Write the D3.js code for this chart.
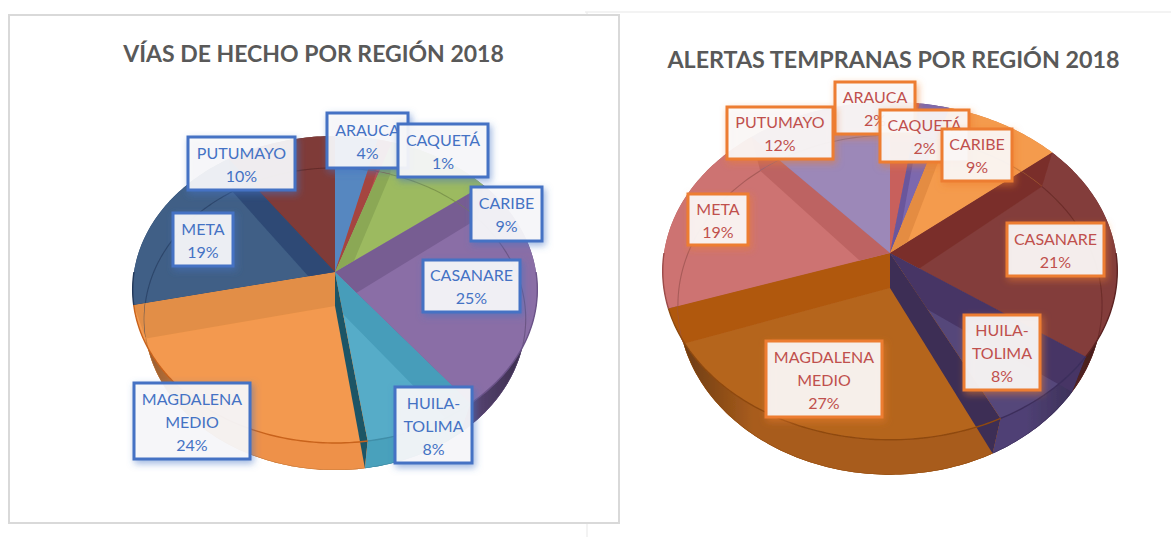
<!DOCTYPE html>
<html><head><meta charset="utf-8">
<script src="https://cdn.jsdelivr.net/npm/d3@7"></script>
<style>html,body{margin:0;background:#fff}svg{display:block}</style></head>
<body><svg id="c" width="1171" height="537"></svg>
<script>
// ---- data ----
const regions = ["ARAUCA","CAQUETÁ","CARIBE","CASANARE","HUILA-TOLIMA","MAGDALENA MEDIO","META","PUTUMAYO"];
const viasValues = [3.8,1.3,9.4,25,8.2,23.9,18.6,9.8];
const alertasValues = [2.3,2.4,9.2,21,7.8,27.1,18.7,11.5];
const viasTitle = "VÍAS DE HECHO POR REGIÓN 2018";
const alertasTitle = "ALERTAS TEMPRANAS POR REGIÓN 2018";
const labelLines = [["ARAUCA"],["CAQUETÁ"],["CARIBE"],["CASANARE"],["HUILA-","TOLIMA"],["MAGDALENA","MEDIO"],["META"],["PUTUMAYO"]];

// ---- styles / layout ----
const viasColors = ["#5687c0","#b9504c","#9cba60","#8a6ea6","#57acc8","#f3994f","#3f5e86","#7f3a38"];
const viasBands  = ["#4f7eb4","#a54440","#8ba855","#775d92","#469dba","#e28e46","#2e4a74","#6f2f2d"];
const viasWalls  = ["#4a76a8","#963c38","#7f9a4c","#5f4a7c","#4aa1bc","#ee9149","#2c4566","#5f2a28"];
const viasRims   = ["#3f6796","#84332f","#6f8741","#6b5388","#3f8ea8","#c8621b","#24395a","#4f2321"];
const viasStripFront = "#1f5566";
const alertasColors = ["#c8615b","#7c68ae","#f49b4e","#833c3b","#55467a","#b5651f","#cd7372","#9c88b8"];
const alertasBands  = ["#b9524c","#6a569c","#e48c42","#7a2f2a","#463565","#b0590f","#bd6462","#8c78a8"];
const alertasWalls  = ["#a9443f","#5d4b90","#d47f38","#6c2e2c","#4f4074","#a85c1c","#b05a58","#7d6a98"];
const alertasRims   = ["#93372f","#4d3d7c","#b86a2a","#5c2422","#3c2e5c","#8f4a10","#9c4b49","#6c5a86"];
const alertasStripFront = "#3d2d54";

const svg = d3.select("#c");
const defs = svg.append("defs");
const sh = (id,col)=>{const f=defs.append("filter").attr("id",id).attr("x","-25%").attr("y","-25%").attr("width","160%").attr("height","160%");
  f.append("feDropShadow").attr("dx",2).attr("dy",3).attr("stdDeviation",3.5).attr("flood-color",col).attr("flood-opacity",.55);};
sh("shB","#4472c4"); sh("shO","#ed7d31");
const soft = defs.append("filter").attr("id","soft"); soft.append("feGaussianBlur").attr("stdDeviation",.45);
const edge = defs.append("linearGradient").attr("id","edgeShade").attr("gradientUnits","objectBoundingBox");
edge.append("stop").attr("offset",0).attr("stop-color","#000").attr("stop-opacity",.45);
edge.append("stop").attr("offset",.2).attr("stop-color","#000").attr("stop-opacity",0);
edge.append("stop").attr("offset",.8).attr("stop-color","#000").attr("stop-opacity",0);
edge.append("stop").attr("offset",1).attr("stop-color","#000").attr("stop-opacity",.45);

// projective disc: angle + level -> screen point
function projector(d){ return (t,r=1)=>{
  const u=r*Math.sin(t), v=r*Math.cos(t), w=1+d.k*v;
  return [d.cx+d.rx*u/w, d.ay-d.ry*v/w];
};}
const lineGen = d3.line();
function arcPts(P,a0,a1){ const n=Math.max(2,Math.ceil((a1-a0)/0.02)); return d3.range(n+1).map(i=>P(a0+(a1-a0)*i/n)); }

let uid=0;
function drawPie(cfg){
  const g = svg.append("g").attr("filter","url(#soft)");
  const arcs = d3.pie().sort(null).value(d=>d)(cfg.values);
  const T = projector(cfg.top), B = projector(cfg.bottom);
  const apexT=T(0,0), apexB=B(0,0);
  const sector = (P,apex,a)=> lineGen([apex,...arcPts(P,a.startAngle,a.endAngle)])+"Z";
  const rimWall = a => lineGen([...arcPts(T,a.startAngle,a.endAngle),...arcPts(B,a.startAngle,a.endAngle).reverse()])+"Z";

  // outer walls and floor
  arcs.forEach((a,i)=>{
    g.append("path").attr("d",sector(B,apexB,a)).attr("fill",cfg.walls[i]);
    g.append("path").attr("d",rimWall(a)).attr("fill",cfg.walls[i]);
  });
  // side shading of the outer wall
  const all=arcPts(T,Math.PI/2,Math.PI*3/2), allB=arcPts(B,Math.PI/2,Math.PI*3/2);
  g.append("path").attr("d",lineGen([...all,...allB.reverse()])+"Z").attr("fill","url(#edgeShade)");

  // top faces
  const id=++uid;
  arcs.forEach((a,i)=>{
    g.append("path").attr("d",sector(T,apexT,a)).attr("fill",cfg.colors[i]);
    const cp=defs.append("clipPath").attr("id",`s${id}_${i}`);
    cp.append("path").attr("d",sector(T,apexT,a));
    cp.append("path").attr("d",rimWall(a));
  });
  // radial partition walls seen through the glass top
  arcs.forEach((a,i)=>{
    const t=a.endAngle; if(i===arcs.length-1) return;
    const inRight=Math.sin(t)>0;
    const host=inRight? i+1 : i;
    const nearFront=Math.abs(t-Math.PI)<cfg.frontSpan;
    const fill=nearFront? cfg.stripFront : cfg.bands[host];
    const q=lineGen([apexT,T(t),B(t),apexB])+"Z";
    g.append("path").attr("d",q).attr("fill",fill).attr("clip-path",`url(#s${id}_${host})`);
  });
  // floor rim seen through the top
  arcs.forEach((a,i)=>{
    g.append("path").attr("d",lineGen(arcPts(B,a.startAngle,a.endAngle))).attr("fill","none")
     .attr("stroke",d3.color(cfg.bands[i]).darker(.6)).attr("stroke-width",1.1).attr("stroke-opacity",.7)
     .attr("clip-path",`url(#s${id}_${i})`);
  });
  // front edge of the top face
  arcs.forEach((a,i)=>{
    const a0=Math.max(a.startAngle,Math.PI/2), a1=Math.min(a.endAngle,Math.PI*3/2);
    if(a1<=a0) return;
    g.append("path").attr("d",lineGen(arcPts(T,a0,a1))).attr("fill","none")
     .attr("stroke",cfg.rims[i]).attr("stroke-width",1.4);
  });

  // labels
  const L=svg.append("g");
  cfg.boxes.forEach((b,i)=>{
    const [x0,y0,x1,y1]=b;
    L.append("rect").attr("x",x0).attr("y",y0).attr("width",x1-x0).attr("height",y1-y0)
      .attr("fill","#fbfbfb").attr("fill-opacity",.9).attr("stroke",cfg.boxStroke).attr("stroke-width",3)
      .attr("filter",`url(#${cfg.shadow})`);
    const lines=[...labelLines[i],d3.format(".0%")(cfg.values[i]/100)];
    const lh=23, h=lh*lines.length, cy=(y0+y1)/2;
    lines.forEach((s,j)=>L.append("text").attr("x",(x0+x1)/2).attr("y",cy-h/2+lh*j+lh/2+6.5)
      .attr("text-anchor","middle").attr("font-family","Lato, 'Open Sans', sans-serif").attr("font-size",16)
      .attr("fill",cfg.labelColor).text(s));
  });
}

// panels
svg.append("path").attr("d","M585 12H1171M587 12V537").attr("fill","none").attr("stroke","#efefef").attr("stroke-width",1.5);
svg.append("rect").attr("x",9).attr("y",15).attr("width",610).attr("height",508).attr("fill","#fff").attr("stroke","#d9d9d9").attr("stroke-width",2);
const title=(x,y,s,fs)=>svg.append("text").attr("x",x).attr("y",y).attr("text-anchor","middle").attr("font-family","Lato, sans-serif")
  .attr("font-weight",700).attr("font-size",fs).attr("fill","#595959").text(s);
title(313.5,62,viasTitle,23); title(893.5,68,alertasTitle,23.3);

drawPie({values:viasValues,colors:viasColors,bands:viasBands,walls:viasWalls,rims:viasRims,frontSpan:0.3,stripFront:viasStripFront,
  top:{cx:335,ay:272,rx:201,ry:151.5,k:.114}, bottom:{cx:335,ay:306,rx:190,ry:150,k:.086},
  boxStroke:"#4472c4",labelColor:"#4472c4",shadow:"shB",
  boxes:[[327,113,408,168],[398,124,488,177],[471,187,542,241],[423,260,520,312],[395,387,472,463],[134,383,250,459],[173,213,233,266],[188,137,295,190]]});
drawPie({values:alertasValues,colors:alertasColors,bands:alertasBands,walls:alertasWalls,rims:alertasRims,frontSpan:0.55,stripFront:alertasStripFront,
  top:{cx:890,ay:253,rx:226,ry:167,k:.106}, bottom:{cx:890,ay:288,rx:211,ry:168,k:.1},
  boxStroke:"#ed7d31",labelColor:"#c0504d",shadow:"shO",
  boxes:[[835,82,915,134],[880,110,969,162],[942,129,1012,181],[1007,223,1104,276],[964,315,1040,390],[766,341,882,417],[688,194,748,245],[727,107,833,159]]});
</script></body></html>
